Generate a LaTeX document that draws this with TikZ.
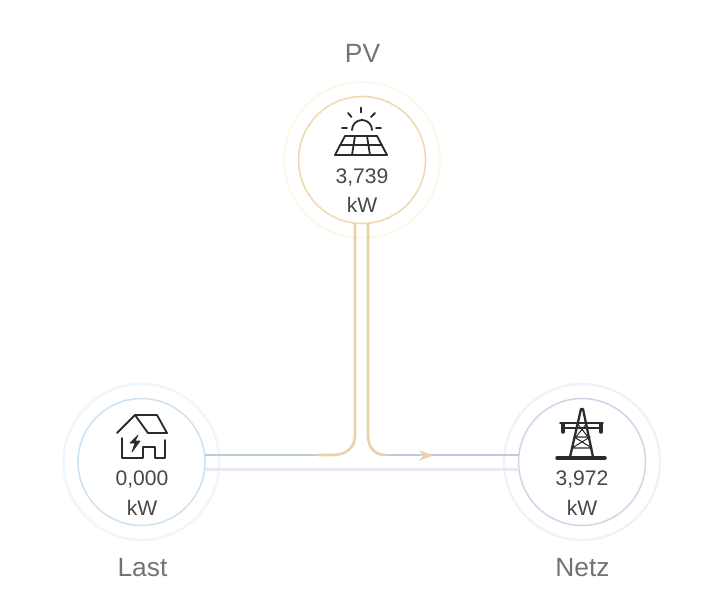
\documentclass[tikz,border=0pt]{standalone}
\usepackage{fontspec}
\setmainfont{Liberation Sans}
\usepackage{xcolor}
\usetikzlibrary{arrows.meta}
\tikzset{>={Stealth[scale=1]}}
\definecolor{pvgold}{HTML}{EFD9AE}
\definecolor{flowgold}{HTML}{E9D2A8}
\definecolor{pvpale}{HTML}{FCF8EC}
\definecolor{lastblue}{HTML}{CFE2F0}
\definecolor{lastpale}{HTML}{F2F5F9}
\definecolor{netzlila}{HTML}{D6D3E8}
\definecolor{netzpale}{HTML}{F2F1F8}
\definecolor{flowblue}{HTML}{BCCDD8}
\definecolor{flowlila}{HTML}{C6C7DB}
\definecolor{flowpale}{HTML}{E9E9F4}
\definecolor{icondark}{HTML}{2B2B2B}
\tikzset{
    ring/.style={circle, draw=#1, line width=0.9pt, minimum size=2.54cm, inner sep=0pt, outer sep=0pt},
    halo/.style={circle, draw=#1, line width=1.4pt, minimum size=3.12cm, inner sep=0pt, outer sep=0pt},
    valuetext/.style={text=black!72, font=\fontsize{12}{14}\selectfont},
    nametext/.style={text=black!55, font=\fontsize{15}{18}\selectfont},
    flow/.style={line width=1.5pt, draw=#1},
    icon/.style={draw=icondark, line width=1.05pt, line cap=round, line join=round}
}

\begin{document}
\begin{tikzpicture}[x=0.02cm, y=-0.02cm]
    \useasboundingbox (0,0) rectangle (703,613);

    \node[halo=pvpale] (pvhalo) at (362,160) {};
    \node[halo=lastpale] (lasthalo) at (141.5,462) {};
    \node[halo=netzpale] (netzhalo) at (582,462) {};
    \node[ring=pvgold] (pv) at (362,160) {};
    \node[ring=lastblue] (last) at (141.5,462) {};
    \node[ring=netzlila] (netz) at (582,462) {};

    % ends of the lines
    \coordinate (pvleft) at (355,223);
    \coordinate (pvright) at (368,223);
    \coordinate (lasttop) at (205,455);
    \coordinate (lastlow) at (205,469);
    \coordinate (netztop) at (519,455);
    \coordinate (netzlow) at (519,469);
    \coordinate (goldstart) at (318,455);
    \coordinate (goldend) at (386,455);
    \coordinate (tipstart) at (420,455.5);
    \coordinate (tipend) at (433,455.5);

    \draw[flow=flowpale, line width=1.7pt] (lastlow) -- (netzlow);
    \draw[flow=flowblue] (lasttop) -- (goldstart);
    \draw[flow=flowlila] (goldend) -- (netztop);
    \draw[flow=flowgold] (pvleft) -- (355,435) .. controls (355,448) and (346,455) .. (332,455) -- (goldstart);
    \draw[flow=flowgold] (pvright) -- (368,435) .. controls (368,448) and (375,455) .. (goldend);
    \draw[flow=flowgold, line width=1.1pt, ->] (tipstart) -- (tipend);

    % solar panel
    \draw[icon] (352,130) arc (180:360:10);
    \draw[icon] (361,107.5) -- (361,112.5);
    \draw[icon] (348,113) -- (351.5,117);
    \draw[icon] (375,113) -- (371,117);
    \draw[icon] (342,128) -- (347,128);
    \draw[icon] (376,128) -- (381,128);
    \draw[icon] (345,136) -- (377,136) -- (387,155) -- (335,155) -- cycle;
    \draw[icon] (340,145) -- (382,145);
    \draw[icon] (355,136) -- (352,155);
    \draw[icon] (367,136) -- (370,155);

    % house
    \draw[icon] (117,433) -- (135,415) -- (157,415) -- (167,433) -- (148,433) -- (135,415);
    \draw[icon] (122,438) -- (122,458) -- (143,458) -- (143,447) -- (155,447) -- (155,458) -- (165,458) -- (165,440);
    \draw[icon, fill=icondark, line width=0.4pt] (138,435) -- (130,443) -- (135,443) -- (132,452) -- (140,441) -- (135,441) -- cycle;

    % pylon
    \draw[icon, line width=2pt] (557,458) -- (605,458);
    \draw[icon, line width=1.3pt] (570,457) -- (581,409) -- (583,409) -- (593,457);
    \draw[icon, line width=0.8pt] (560,423) -- (603,423);
    \draw[icon, line width=0.8pt] (562,428) -- (601,428);
    \draw[icon, line width=0.6pt] (574,437) -- (590,437) -- (572,448) -- (592,448) -- (574,437);
    \draw[icon, line width=0.6pt] (577,423) -- (588,437);
    \draw[icon, line width=0.6pt] (587,423) -- (576,437);
    \draw[icon, line width=2pt] (563,424) -- (563,432);
    \draw[icon, line width=2pt] (601,424) -- (601,432);

    \node[nametext] (pvname) at (362.5,53) {PV};
    \node[nametext] (lastname) at (142.5,568) {Last};
    \node[nametext] (netzname) at (582.5,568) {Netz};

    \node[valuetext] (pvvalue) at (362,177) {3,739};
    \node[valuetext] (pvunit) at (362,205) {kW};
    \node[valuetext] (lastvalue) at (142,479) {0,000};
    \node[valuetext] (lastunit) at (142,508) {kW};
    \node[valuetext] (netzvalue) at (582,479) {3,972};
    \node[valuetext] (netzunit) at (582,508) {kW};
\end{tikzpicture}
\end{document}
